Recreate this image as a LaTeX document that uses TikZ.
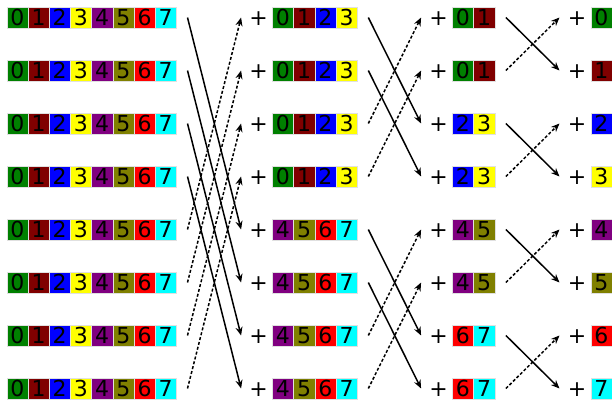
\documentclass[tikz,border=0pt]{standalone}
\usepackage{fontspec}
\setmainfont{DejaVu Sans}
\definecolor{dig0}{HTML}{008000}
\definecolor{dig1}{HTML}{800000}
\definecolor{dig2}{HTML}{0000FF}
\definecolor{dig3}{HTML}{FFFF00}
\definecolor{dig4}{HTML}{800080}
\definecolor{dig5}{HTML}{808000}
\definecolor{dig6}{HTML}{FF0000}
\definecolor{dig7}{HTML}{00FFFF}
\usetikzlibrary{arrows.meta}

\begin{document}
\begin{tikzpicture}[x=1pt, y=-1pt,
  every node/.style={font=\fontsize{22}{26}\selectfont, inner sep=0pt},
  cell/.style={rectangle, draw=black!12, line width=0.4pt,
               minimum width=21.2pt, minimum height=21.2pt},
  arr/.style={-{Stealth[length=8.5pt, width=7pt]}, line width=1.5pt},
  back/.style={arr, dash pattern=on 3pt off 2pt}
]
  \useasboundingbox (0,0) rectangle (612,399);

  % full arrays
  \foreach \r in {1,...,8}
    \foreach \k in {0,...,7}
      \node[cell, fill=dig\k] (a\r-\k) at ({17.3+21.2*\k}, {17.5+53*(\r-1)}) {\k};

  % halves
  \foreach \r in {1,...,8} {
    \pgfmathtruncatemacro{\off}{4*(\r>4)}
    \foreach \k in {0,...,3} {
      \pgfmathtruncatemacro{\d}{\k+\off}
      \node[cell, fill=dig\d] (b\r-\k) at ({282.9+21.2*\k}, {17.5+53*(\r-1)}) {\d};
    }
    \node[anchor=base east] (pb\r) at ([xshift=-4pt]b\r-0.base west) {+};
  }

  % quarters
  \foreach \r in {1,...,8} {
    \pgfmathtruncatemacro{\off}{2*int((\r-1)/2)}
    \foreach \k in {0,1} {
      \pgfmathtruncatemacro{\d}{\k+\off}
      \node[cell, fill=dig\d] (c\r-\k) at ({462.9+21.2*\k}, {17.5+53*(\r-1)}) {\d};
    }
    \node[anchor=base east] (pc\r) at ([xshift=-4pt]c\r-0.base west) {+};
  }

  % single elements
  \foreach \r in {1,...,8} {
    \pgfmathtruncatemacro{\d}{\r-1}
    \node[cell, fill=dig\d] (d\r-0) at (601.3, {17.5+53*(\r-1)}) {\d};
    \node[anchor=base east] (pd\r) at ([xshift=-4pt]d\r-0.base west) {+};
  }

  % stage 1
  \foreach \i [evaluate=\i as \j using int(\i+4)] in {1,...,4} {
    \draw[arr] ([xshift=11pt]a\i-7.east) -- ([xshift=-31pt]b\j-0.west);
    \draw[back] ([xshift=11pt]a\j-7.east) -- ([xshift=-31pt]b\i-0.west);
  }

  % stage 2
  \foreach \i [evaluate=\i as \j using int(\i+2)] in {1,2,5,6} {
    \draw[arr] ([xshift=11pt]b\i-3.east) -- ([xshift=-31pt]c\j-0.west);
    \draw[back] ([xshift=11pt]b\j-3.east) -- ([xshift=-31pt]c\i-0.west);
  }

  % stage 3
  \foreach \i [evaluate=\i as \j using int(\i+1)] in {1,3,5,7} {
    \draw[arr] ([xshift=11pt]c\i-1.east) -- ([xshift=-31pt]d\j-0.west);
    \draw[back] ([xshift=11pt]c\j-1.east) -- ([xshift=-31pt]d\i-0.west);
  }
\end{tikzpicture}
\end{document}
